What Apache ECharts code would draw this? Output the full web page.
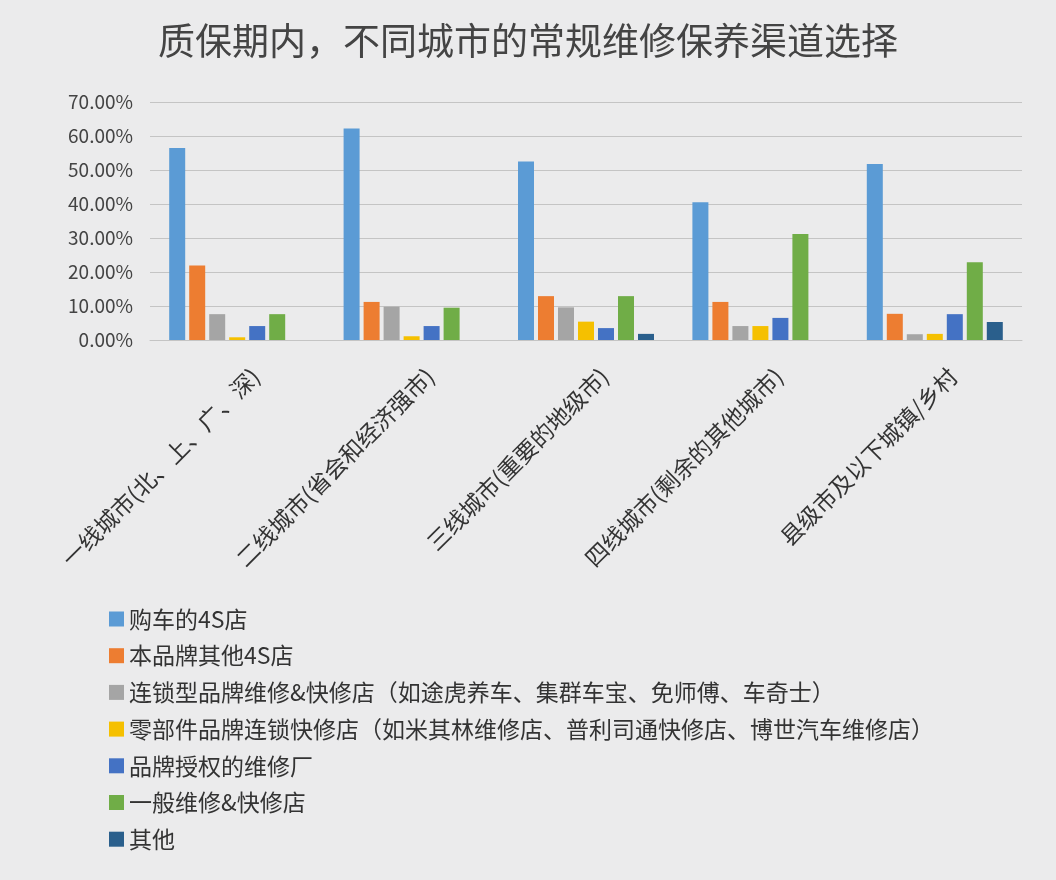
<!DOCTYPE html>
<html><head><meta charset="utf-8">
<script src="https://cdn.jsdelivr.net/npm/echarts@6/dist/echarts.min.js"></script>
<style>html,body{margin:0;padding:0;background:#ebebec;}#c{width:1056px;height:880px;}</style>
</head><body><div id="c"></div>
<script>
const categories = ['一线城市(北、上、广、深)', '二线城市(省会和经济强市)', '三线城市(重要的地级市)', '四线城市(剩余的其他城市)', '县级市及以下城镇/乡村'];
const seriesNames = ['购车的4S店', '本品牌其他4S店', '连锁型品牌维修&快修店（如途虎养车、集群车宝、免师傅、车奇士）', '零部件品牌连锁快修店（如米其林维修店、普利司通快修店、博世汽车维修店）', '品牌授权的维修厂', '一般维修&快修店', '其他'];
const s4S = [56.5, 62.2, 52.5, 40.5, 51.8];
const sOther4S = [21.9, 11.2, 12.9, 11.2, 7.7];
const sChain = [7.6, 9.8, 9.6, 4.1, 1.7];
const sParts = [0.8, 1.1, 5.4, 4.1, 1.8];
const sAuth = [4.1, 4.1, 3.5, 6.5, 7.6];
const sGeneral = [7.6, 9.5, 12.9, 31.2, 22.9];
const sMisc = [0, 0, 1.8, 0, 5.3];
const yTicks = [0, 10, 20, 30, 40, 50, 60, 70];
const colors = ['#5b9bd5', '#ed7d31', '#a5a5a5', '#f5c000', '#4472c4', '#70ad47', '#2a5f8c'];
const allData = [s4S, sOther4S, sChain, sParts, sAuth, sGeneral, sMisc];

const chart = echarts.init(document.getElementById('c'));
const font = '"Noto Sans CJK SC", "Noto Sans", sans-serif';
chart.setOption({
  backgroundColor: '#ebebec',
  color: colors,
  textStyle: {fontFamily: font},
  title: {
    text: '质保期内，不同城市的常规维修保养渠道选择',
    left: 'center', top: 17,
    textStyle: {fontSize: 37, fontWeight: 'normal', color: '#444', fontFamily: font}
  },
  legend: {
    orient: 'vertical', left: 104, top: 602,
    itemWidth: 15, itemHeight: 15, itemGap: 12.7,
    icon: 'rect',
    textStyle: {fontSize: 23, color: '#333', lineHeight: 24, fontFamily: font},
    data: seriesNames
  },
  grid: {left: 150, right: 34, top: 102, bottom: 540, containLabel: false},
  xAxis: {
    type: 'category', data: categories,
    axisLine: {lineStyle: {color: '#c4c4c4'}},
    axisTick: {show: false},
    axisLabel: {rotate: 45, interval: 0, fontSize: 23, lineHeight: 52, color: '#333', margin: 14, verticalAlign: 'top', fontFamily: font}
  },
  yAxis: {
    type: 'value', min: yTicks[0], max: yTicks[yTicks.length - 1], interval: 10,
    axisLine: {show: false}, axisTick: {show: false},
    splitLine: {lineStyle: {color: '#c4c4c4', width: 1.2}},
    axisLabel: {fontSize: 19, color: '#444', margin: 17, formatter: v => v.toFixed(2) + '%', fontFamily: font}
  },
  series: seriesNames.map((n, i) => ({
    name: n, type: 'bar', data: allData[i],
    barWidth: 16, barGap: '25%',
    itemStyle: {color: colors[i]}
  }))
});
</script></body></html>
